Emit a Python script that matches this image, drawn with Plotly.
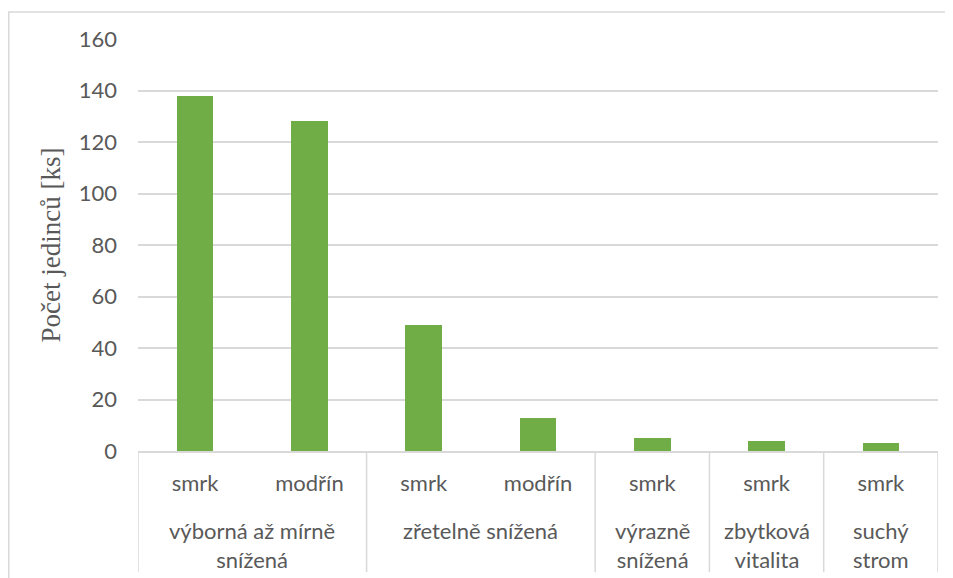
import plotly.graph_objects as go

# data
species = ["smrk", "modřín", "smrk", "modřín", "smrk", "smrk", "smrk"]
counts = [138, 128, 49, 13, 5, 4, 3]
groups = ["výborná až mírně<br>snížená", "zřetelně snížená",
          "výrazně<br>snížená", "zbytková<br>vitalita", "suchý<br>strom"]
group_sizes = [2, 2, 1, 1, 1]
y_ticks = [0, 20, 40, 60, 80, 100, 120, 140, 160]

GREEN = "#70AD47"
GRID = "#D9D9D9"
TEXT = "#595959"
FONT = "Lato, Open Sans, sans-serif"

x_pos = list(range(len(counts)))

fig = go.Figure()
fig.add_trace(go.Bar(
    x=x_pos, y=counts, width=0.32,
    marker=dict(color=GREEN, line=dict(width=0)),
    showlegend=False,
))

# group labels and separator lines below the axis
shapes = []
annotations = []
start = 0
bounds = [-0.5]
for name, size in zip(groups, group_sizes):
    centre = start + (size - 1) / 2
    annotations.append(dict(
        x=centre, xref="x", y=0, yref="paper", yanchor="top",
        yshift=-64, text=name, showarrow=False,
        font=dict(family=FONT, size=22, color=TEXT), align="center",
    ))
    start += size
    bounds.append(start - 0.5)

for b in bounds:
    shapes.append(dict(
        type="line", xref="x", yref="paper", x0=b, x1=b, y0=0, y1=-0.294,
        line=dict(color=GRID, width=1.5),
    ))

# outer chart border (page body has an 8px margin, figure is shifted by it)
shapes.append(dict(
    type="rect", xref="paper", yref="paper",
    x0=-0.1615, x1=1.0125, y0=-0.45, y1=1.0655,
    line=dict(color=GRID, width=1.5), layer="below",
))

fig.update_layout(
    width=945, height=570,
    margin=dict(l=130, r=15, t=31, b=127),
    paper_bgcolor="white", plot_bgcolor="white",
    font=dict(family=FONT, size=22, color=TEXT),
    bargap=0,
    shapes=shapes,
    annotations=annotations,
    xaxis=dict(
        range=[-0.5, len(counts) - 0.5],
        tickvals=x_pos, ticktext=species,
        ticks="", showgrid=False, zeroline=False,
        showline=True, linecolor=GRID, linewidth=1.5,
        ticklabelstandoff=12,
        tickfont=dict(family=FONT, size=22, color=TEXT),
    ),
    yaxis=dict(
        range=[0, 160], tickvals=y_ticks,
        showgrid=True, gridcolor=GRID, gridwidth=1.5,
        zeroline=False, ticks="", ticklabelstandoff=20,
        tickfont=dict(family=FONT, size=22, color=TEXT),
        title=dict(text="Počet jedinců [ks]", standoff=10,
                   font=dict(family="Liberation Serif, Times New Roman, serif",
                             size=27, color=TEXT)),
    ),
)

fig.write_html("out.html")
